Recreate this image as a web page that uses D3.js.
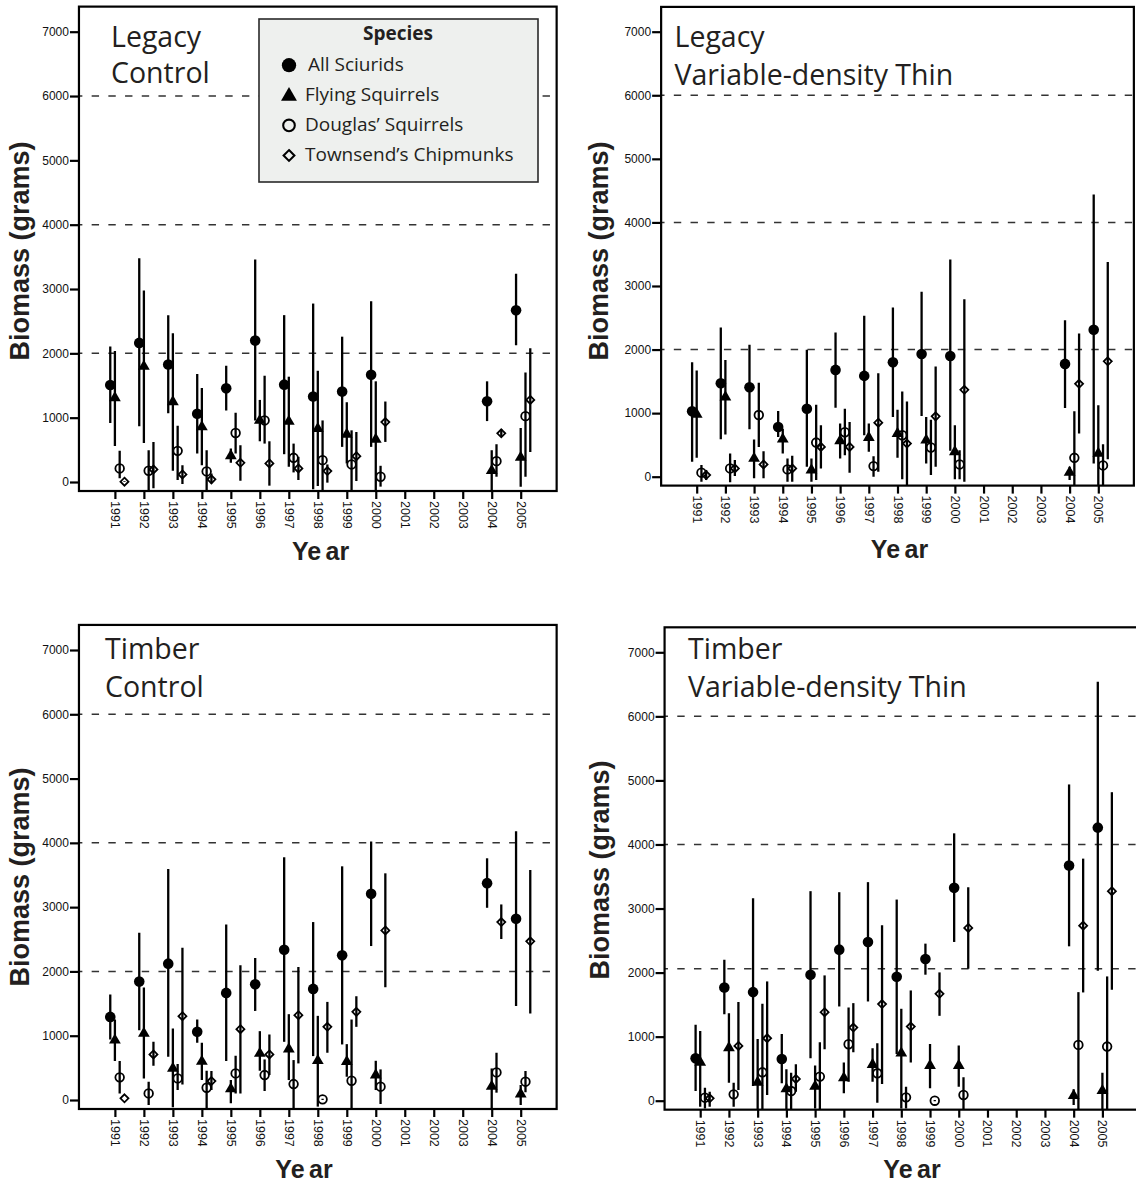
<!DOCTYPE html>
<html><head><meta charset="utf-8">
<script src="https://cdn.jsdelivr.net/npm/d3@7/dist/d3.min.js"></script>
<style>body{margin:0;background:#fff}svg{display:block}</style>
</head><body>
<svg id="chart" width="1136" height="1185"></svg>
<script>
// ---------- DATA ----------
const tickYears = [1991,1992,1993,1994,1995,1996,1997,1998,1999,2000,2001,2002,2003,2004,2005];
const dataYears = [1991,1992,1993,1994,1995,1996,1997,1998,1999,2000,2004,2005];
const yTicks = [0,1000,2000,3000,4000,5000,6000,7000];
const speciesNames = ["All Sciurids","Flying Squirrels","Douglas’ Squirrels","Townsend’s Chipmunks"];
const legendTitle = "Species";
const yAxisTitle = "Biomass (grams)";
const xAxisTitle = "Ye ar";

// each entry: [mean, lower, upper] per data year
// Legacy Control
const lcAll = [[1508,916,2105],[2162,865,3479],[1827,1070,2594],[1060,443,1678],[1456,1112,1806],[2198,957,3459],[1513,432,2594],[1328,-113,2774],[1405,546,2259],[1668,546,2810],[1256,947,1565],[2671,2126,3237]];
const lcFly = [[1318,561,2038],[1806,607,2975],[1256,175,2311],[865,262,1462],[417,298,520],[968,633,1276],[952,237,1637],[839,-62,1729],[751,288,1240],[674,-139,1565],[185,-139,494],[391,-72,839]];
const lcDoug = [[211,60,484],[175,-150,494],[484,30,875],[165,-150,494],[762,443,1076],[957,597,1652],[376,149,597],[340,-139,957],[273,-139,803],[82,-72,252],[324,82,587],[1024,80,1704]];
const lcTown = [[5,0,10],[195,-98,623],[118,-30,262],[41,-20,134],[298,20,571],[288,-57,633],[211,31,391],[170,-10,273],[401,15,777],[932,623,1251],[757,700,823],[1276,468,2079]];
// Legacy Variable-density Thin
const lvAll = [[1028,235,1800],[1471,589,2347],[1408,746,2076],[782,626,1033],[1069,156,1998],[1680,1085,2269],[1586,652,2530],[1800,939,2660],[1930,955,2911],[1899,407,3415],[1774,1080,2462],[2311,209,4440]];
const lvFly = [[991,297,1669],[1262,662,1836],[297,-26,584],[600,365,756],[115,-78,287],[574,287,835],[626,391,835],[689,297,1054],[584,209,939],[402,-42,809],[78,-52,156],[376,-140,1122]];
const lvDoug = [[63,-78,183],[130,-89,365],[970,469,1476],[115,-78,287],[537,-52,1132],[699,339,1069],[167,0,323],[652,-42,1341],[459,26,897],[193,-42,417],[297,-140,1028],[177,-140,511]];
const lvTown = [[26,-52,104],[130,10,261],[193,-26,402],[130,-78,329],[469,130,809],[469,63,861],[850,78,1628],[522,-140,1184],[949,156,1732],[1367,-78,2791],[1461,678,2253],[1815,276,3378]];
// Timber Control
const tcAll = [[1293,941,1640],[1842,1086,2602],[2121,673,3594],[1061,890,1252],[1666,605,2731],[1800,1386,2209],[2338,905,3776],[1728,683,2768],[2250,864,3635],[3207,2395,4021],[3373,2990,3760],[2819,1464,4182]];
const tcFly = [[941,605,1252],[1045,336,1749],[502,-114,1112],[610,310,890],[181,-52,310],[735,455,1071],[802,310,1335],[621,-103,1309],[605,362,869],[398,155,610],[222,-129,491],[103,-78,233]];
const tcDoug = [[352,103,605],[103,-78,285],[336,155,559],[191,-129,455],[414,103,688],[388,140,631],[248,-129,621],[10,0,20],[300,-129,1252],[207,-62,476],[429,114,735],[285,119,450]];
const tcTown = [[26,26,26],[709,533,905],[1304,243,2369],[295,155,450],[1102,103,2095],[709,388,1019],[1319,569,2069],[1138,735,1526],[1371,1138,1614],[2638,1754,3526],[2768,2504,3042],[2468,1345,3578]];
// Timber Variable-density Thin
const tvAll = [[662,151,1184],[1768,1351,2201],[1695,230,3160],[652,271,1043],[1967,662,3271],[2358,1471,3255],[2478,1549,3412],[1935,730,3140],[2212,1967,2452],[3323,2478,4174],[3672,2410,4937],[4263,2029,6542]];
const tvFly = [[610,-94,1090],[835,282,1367],[297,-140,965],[193,-140,490],[235,-120,548],[365,115,595],[574,297,819],[751,-120,1435],[558,193,887],[558,219,861],[89,-68,177],[167,-140,438]];
const tvDoug = [[47,-120,203],[99,-94,282],[443,-140,1513],[151,-140,438],[376,-140,913],[882,297,1455],[428,-31,897],[52,-120,219],[0,-10,10],[89,-136,365],[871,-140,1695],[845,-140,1940]];
const tvTown = [[37,-94,141],[855,167,1539],[975,89,1862],[339,141,569],[1382,803,1956],[1142,756,1523],[1508,261,2739],[1158,595,1721],[1669,1325,2003],[2697,2061,3332],[2733,1690,3779],[3271,1732,4816]];

const panelTitles = [["Legacy","Control"],["Legacy","Variable-density Thin"],["Timber","Control"],["Timber","Variable-density Thin"]];
const panelSeries = [[lcAll,lcFly,lcDoug,lcTown],[lvAll,lvFly,lvDoug,lvTown],[tcAll,tcFly,tcDoug,tcTown],[tvAll,tvFly,tvDoug,tvTown]];
const panelRefLines = [[2000,4000,6000],[2000,4000,6000],[2000,4000,6000],[2060,4000,6000]];

// ---------- LAYOUT ----------
const layout = [
  {x1991:114.9, x2005:520.7, y0:482,    y7000:31.7,  tx:111,   ty:[46.7,83.3],   ylx:29,  yly:251, xlx:320.6, xly:560,  legend:true},
  {x1991:696.7, x2005:1098.3,y0:476.7,  y7000:31.7,  tx:674.5, ty:[46.7,85],     ylx:607.5,yly:251, xlx:899.5, xly:558},
  {x1991:114.9, x2005:520.7, y0:1100,   y7000:650,   tx:105,   ty:[659.3,696.7], ylx:29,  yly:877, xlx:304,   xly:1178},
  {x1991:700.2, x2005:1102.4,y0:1100.7, y7000:652.3, tx:688,   ty:[659.3,696.7], ylx:608.7,yly:870, xlx:912,   xly:1178}
];
const speciesOffset = [-0.16, 0, 0.165, 0.33];
const textColor = "#231f20";
const sansTitle = "'Open Sans', 'Noto Sans', sans-serif";
const sansAxis = "'Liberation Sans', Arial, Helvetica, sans-serif";

const svg = d3.select("#chart");

function drawMarker(sel, si, scale) {
  const k = scale || 1;
  if (si === 0) {
    sel.append("circle").attr("r", 5.3*k).attr("fill", "#000");
  } else if (si === 1) {
    const w = 5.9*k, h1 = 6.1*k, h2 = 4.0*k;
    sel.append("path").attr("d", `M0,${-h1}L${w},${h2}L${-w},${h2}Z`).attr("fill", "#000");
  } else if (si === 2) {
    sel.append("circle").attr("r", 4.3*k).attr("fill", "none").attr("stroke", "#000").attr("stroke-width", 1.8*Math.min(k,1.15));
  } else {
    const a = 4.0*k;
    sel.append("path").attr("d", `M0,${-a}L${a},0L0,${a}L${-a},0Z`).attr("fill", "none").attr("stroke", "#000").attr("stroke-width", 1.8*Math.min(k,1.15));
  }
}

layout.forEach((L, pi) => {
  const x = d3.scaleLinear().domain([1991, 2005]).range([L.x1991, L.x2005]);
  const y = d3.scaleLinear().domain([0, 7000]).range([L.y0, L.y7000]);
  const fx0 = x(1991 - 1.24), fx1 = x(2005 + 1.24);
  const fy0 = y(7390), fy1 = y(-140);
  const g = svg.append("g");

  const clipId = "clip" + pi;
  svg.append("defs").append("clipPath").attr("id", clipId)
    .append("rect").attr("x", fx0).attr("y", fy0).attr("width", fx1 - fx0).attr("height", fy1 - fy0);

  // reference lines
  g.selectAll("line.ref").data(panelRefLines[pi]).join("line")
    .attr("class", "ref")
    .attr("x1", fx0).attr("x2", fx1)
    .attr("y1", d => y(d)).attr("y2", d => y(d))
    .attr("stroke", "#333").attr("stroke-width", 1.5)
    .attr("stroke-dasharray", "7.4,9.3").attr("stroke-dashoffset", 4);

  // titles
  panelTitles[pi].forEach((t, i) => {
    g.append("text").attr("x", L.tx).attr("y", L.ty[i]).attr("font-family", sansTitle)
      .attr("font-size", 28.5).attr("fill", textColor).text(t);
  });

  // series
  const dg = g.append("g").attr("clip-path", `url(#${clipId})`);
  panelSeries[pi].forEach((arr, si) => {
    const rows = arr.map((v, i) => ({year: dataYears[i], m: v[0], lo: v[1], hi: v[2]}));
    const cx = d => x(d.year + speciesOffset[si]);
    dg.selectAll(null).data(rows).join("line")
      .attr("x1", cx).attr("x2", cx)
      .attr("y1", d => y(d.lo)).attr("y2", d => y(d.hi))
      .attr("stroke", "#000").attr("stroke-width", 2.3);
    dg.selectAll(null).data(rows).join("g")
      .attr("transform", d => `translate(${cx(d)},${y(d.m)})`)
      .each(function () { drawMarker(d3.select(this), si, 1); });
  });

  // frame
  g.append("rect").attr("x", fx0).attr("y", fy0).attr("width", fx1 - fx0).attr("height", fy1 - fy0)
    .attr("fill", "none").attr("stroke", "#000").attr("stroke-width", 2.2);

  // y axis
  const ya = g.append("g").attr("transform", `translate(${fx0},0)`)
    .call(d3.axisLeft(y).tickValues(yTicks).tickFormat(d3.format("d")).tickSize(9).tickPadding(1));
  ya.select(".domain").remove();
  ya.selectAll(".tick line").attr("stroke-width", 2.2);
  ya.selectAll(".tick text").attr("font-family", sansAxis).attr("font-size", 12).attr("fill", "#111");

  // x axis
  const xa = g.append("g").attr("transform", `translate(0,${fy1})`)
    .call(d3.axisBottom(x).tickValues(tickYears).tickFormat(d3.format("d")).tickSize(8));
  xa.select(".domain").remove();
  xa.selectAll(".tick line").attr("stroke-width", 2.2);
  xa.selectAll(".tick text")
    .attr("transform", "rotate(90)")
    .attr("x", 10).attr("y", 0).attr("dy", "0.36em")
    .attr("text-anchor", "start")
    .attr("font-family", sansAxis).attr("font-size", 12.5).attr("fill", "#111");

  // axis titles
  g.append("text").attr("transform", `translate(${L.ylx},${L.yly}) rotate(-90)`)
    .attr("text-anchor", "middle").attr("font-family", sansAxis).attr("font-weight", "bold")
    .attr("font-size", 27).attr("fill", textColor).text(yAxisTitle);
  g.append("text").attr("x", L.xlx).attr("y", L.xly)
    .attr("text-anchor", "middle").attr("font-family", sansAxis).attr("font-weight", "bold")
    .attr("font-size", 25).attr("word-spacing", -2.5).attr("fill", textColor).text(xAxisTitle);

  // legend
  if (L.legend) {
    const lg = g.append("g");
    lg.append("rect").attr("x", 259).attr("y", 19).attr("width", 279).attr("height", 163)
      .attr("fill", "#eef0ee").attr("stroke", "#2a2a2a").attr("stroke-width", 1.6);
    lg.append("text").attr("x", 398).attr("y", 40).attr("text-anchor", "middle")
      .attr("font-family", sansTitle).attr("font-weight", "bold").attr("font-size", 19)
      .attr("fill", textColor).text(legendTitle);
    const ly = d3.scalePoint().domain(speciesNames).range([70.7, 161]);
    speciesNames.forEach((name, si) => {
      const mg = lg.append("g").attr("transform", `translate(289,${ly(name) - 5.5})`);
      drawMarker(mg, si, 1.35);
      lg.append("text").attr("x", si === 0 ? 308 : 305).attr("y", ly(name))
        .attr("font-family", sansTitle).attr("font-size", 19).attr("fill", textColor).text(name);
    });
  }
});
</script>
</body></html>
